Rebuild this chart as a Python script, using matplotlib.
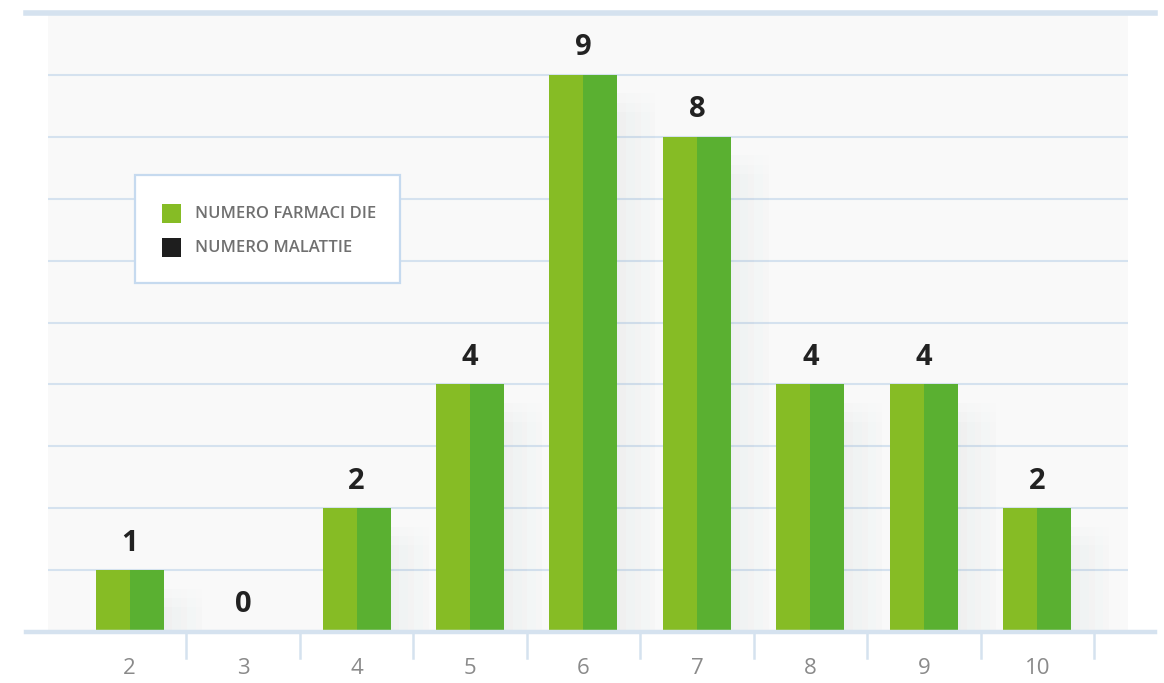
import matplotlib.pyplot as plt
from matplotlib.lines import Line2D
from matplotlib.patches import Rectangle
import numpy as np

plt.rcParams['font.family'] = ['Open Sans', 'DejaVu Sans']

categories = ["2", "3", "4", "5", "6", "7", "8", "9", "10"]
farmaci_die = [1, 0, 2, 4, 9, 8, 4, 4, 2]
series_names = ["NUMERO FARMACI DIE", "NUMERO MALATTIE"]
legend_colors = ["#86bc25", "#1e1e1e"]

light_green = "#86bc25"
dark_green = "#5ab031"
line_col = "#d5e2ef"

W, H = 1164, 683
fig = plt.figure(figsize=(W / 100, H / 100), dpi=100)
ax = fig.add_axes([48 / W, 51 / H, (1128 - 48) / W, (632 - 13) / H])
ax.set_facecolor("#f9f9f9")

x = np.arange(len(categories))
half = 0.3

# soft shadow to the right of each bar, fading sideways and at the top
steps = 14
sw = 0.36 / steps
for k in range(steps):
    for drop in [0.3, 0.45, 0.6]:
        a = 0.022 * (1 - k / steps)
        hs = [max(v - drop, 0) for v in farmaci_die]
        ax.bar(x + half + k * sw, hs, sw, align="edge", color="#6e7b88", alpha=a,
               linewidth=0, zorder=1)

ax.bar(x - half, farmaci_die, half, align="edge", color=light_green, zorder=3)
ax.bar(x, farmaci_die, half, align="edge", color=dark_green, zorder=3)

for xi, v in zip(x, farmaci_die):
    ax.annotate(str(v), (xi, v), xytext=(0, 9), textcoords="offset points",
                ha="center", va="bottom", fontsize=21, fontweight="bold",
                color="#222222", zorder=5)

ax.set_xlim(-0.72, 8.8)
ax.set_ylim(0, 10)
for yv in range(1, 10):
    ax.axhline(yv, color=line_col, lw=1.5, zorder=0.5)

for s in ax.spines.values():
    s.set_visible(False)
ax.set_yticks([])
ax.set_xticks(x)
ax.set_xticklabels(categories, fontsize=16, color="#8a8a8a", fontweight="medium")
ax.tick_params(axis="x", length=0, pad=19)

# top and bottom rules extending past the plot area
for yp, lw in [(13, 4), (632, 3.2)]:
    fig.add_artist(Line2D([26 / W, 1155 / W], [1 - yp / H, 1 - yp / H],
                          color=line_col, lw=lw, zorder=10))

# separators below the axis
for xs in x + 0.5:
    ax.plot([xs, xs], [0, -0.42], color=line_col, lw=1.8, clip_on=False, zorder=10)

# legend box
box = Rectangle((135 / W, 1 - 283 / H), (400 - 135) / W, (283 - 175) / H,
                transform=fig.transFigure, facecolor="white",
                edgecolor="#c6daef", lw=1.6, zorder=20)
fig.add_artist(box)
for i, (name, col) in enumerate(zip(series_names, legend_colors)):
    yc = 213 + i * 34
    fig.add_artist(Rectangle((162 / W, 1 - (yc + 9.5) / H), 19 / W, 19 / H,
                             transform=fig.transFigure, facecolor=col,
                             edgecolor="none", zorder=21))
    fig.text(195 / W, 1 - (yc + 1) / H, name, fontsize=12, color="#707070",
             va="center", ha="left", fontweight="semibold", zorder=22)

fig.savefig("out.png", dpi=100)
